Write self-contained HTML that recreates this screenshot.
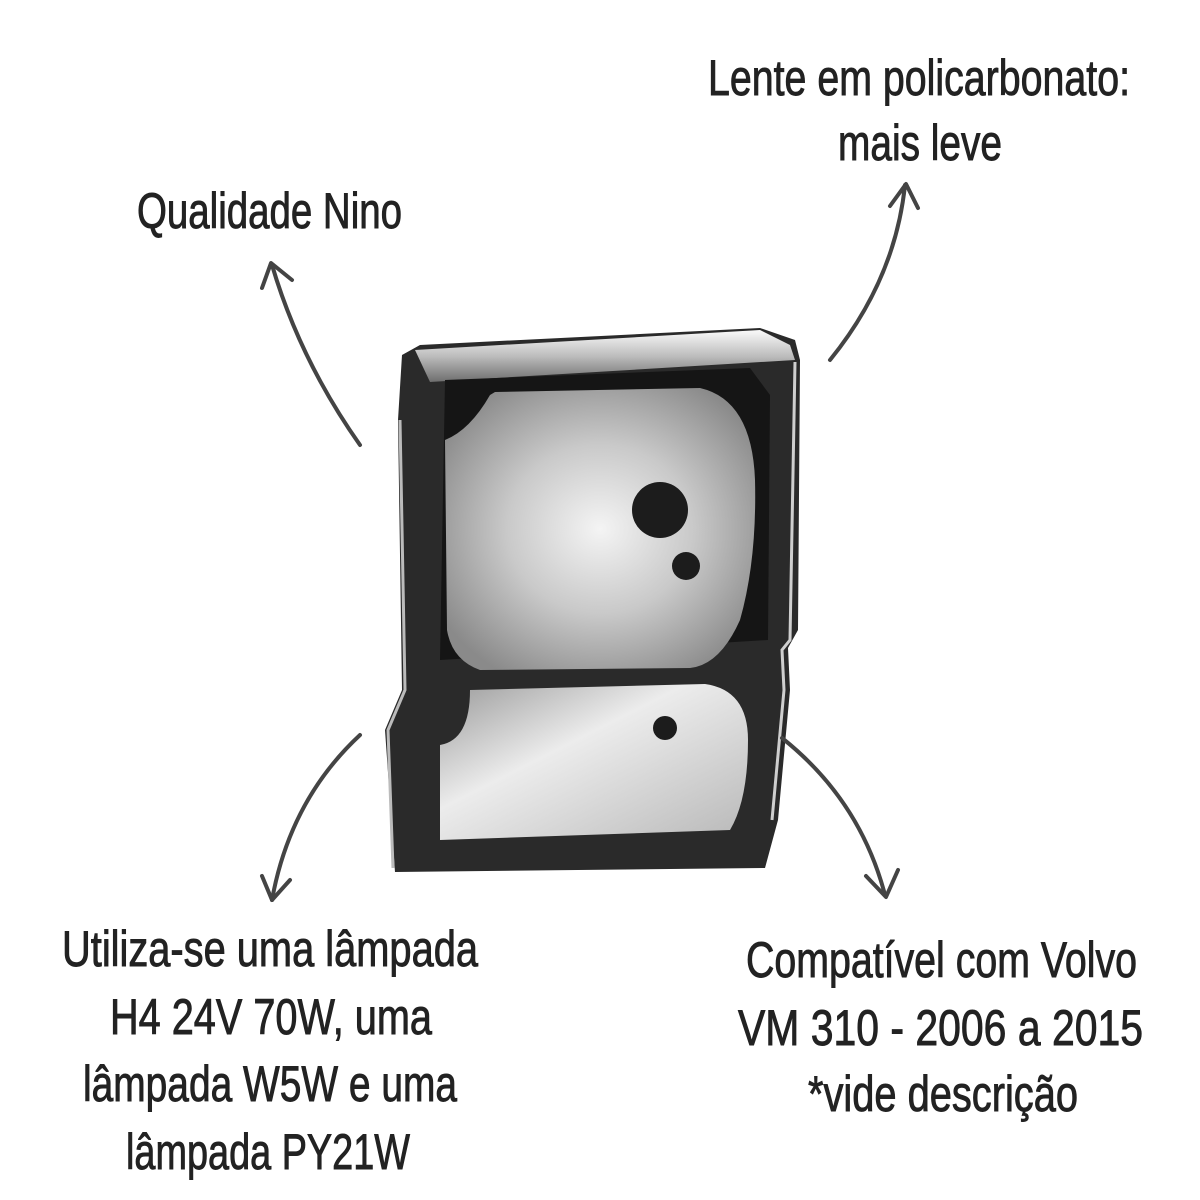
<!DOCTYPE html>
<html><head><meta charset="utf-8"><style>
html,body{margin:0;padding:0;background:#fff}
svg{display:block}
text{font-family:"Liberation Sans Narrow","Liberation Sans",sans-serif;font-size:50px;fill:#222;stroke:#222;stroke-width:0.9}
</style></head><body>
<svg width="1200" height="1200" viewBox="0 0 1200 1200" xmlns="http://www.w3.org/2000/svg">
<defs>
<radialGradient id="lens" cx="0.5" cy="0.5" r="0.6">
<stop offset="0" stop-color="#f4f4f4"/><stop offset="0.5" stop-color="#c9c9c9"/><stop offset="1" stop-color="#8a8a8a"/>
</radialGradient>
<linearGradient id="chrome" x1="0" y1="0" x2="0" y2="1">
<stop offset="0" stop-color="#fafafa"/><stop offset="0.5" stop-color="#bdbdbd"/><stop offset="1" stop-color="#6e6e6e"/>
</linearGradient>
<linearGradient id="low" x1="0" y1="0" x2="1" y2="1">
<stop offset="0" stop-color="#9a9a9a"/><stop offset="0.4" stop-color="#ececec"/><stop offset="1" stop-color="#b8b8b8"/>
</linearGradient>
</defs>

<!-- headlight -->
<path d="M402,355 L420,345 L760,328 L795,340 L800,360 L798,630 L788,648 L790,690 L778,820 L765,868 L395,872 L385,730 L402,690 L398,420 Z" fill="#2a2a2a"/>
<path d="M415,350 L760,330 L790,345 L795,360 L430,382 Z" fill="url(#chrome)"/>
<path d="M445,380 L750,368 L770,395 L768,640 L440,660 Z" fill="#151515"/>
<path d="M495,392 L700,388 Q752,400 755,480 Q757,560 740,620 Q720,665 690,668 L480,670 Q452,660 447,630 L445,440 Q470,430 490,395 Z" fill="url(#lens)"/>
<circle cx="660" cy="510" r="28" fill="#1c1c1c"/>
<circle cx="686" cy="566" r="14" fill="#1c1c1c"/>
<path d="M470,690 L705,684 Q748,690 748,740 Q748,800 730,830 L440,840 L440,745 Q470,740 470,690 Z" fill="url(#low)"/>
<circle cx="665" cy="728" r="12" fill="#1c1c1c"/>
<path d="M400,420 L405,690 L388,730 L393,868" stroke="#bbb" stroke-width="3" fill="none"/>
<path d="M795,362 L790,640 L782,650 L784,690 L772,820" stroke="#cfcfcf" stroke-width="3" fill="none"/>

<!-- arrows -->
<g stroke="#444" stroke-width="4" fill="none" stroke-linecap="round" stroke-linejoin="round">
<path d="M360,445 Q300,360 272,265"/><path d="M262,288 L271,263 L292,280"/>
<path d="M830,360 Q895,280 905,185"/><path d="M890,206 L906,184 L918,208"/>
<path d="M360,735 Q290,800 272,900"/><path d="M262,876 L272,900 L290,880"/>
<path d="M782,738 Q860,800 885,895"/><path d="M866,876 L886,897 L898,870"/>
</g>

<!-- labels -->
<text x="137" y="228" textLength="265" lengthAdjust="spacingAndGlyphs">Qualidade Nino</text>
<text x="708" y="95" textLength="422" lengthAdjust="spacingAndGlyphs">Lente em policarbonato:</text>
<text x="838" y="160" textLength="164" lengthAdjust="spacingAndGlyphs">mais leve</text>
<text x="62" y="966" textLength="416" lengthAdjust="spacingAndGlyphs">Utiliza-se uma lâmpada</text>
<text x="110" y="1034" textLength="322" lengthAdjust="spacingAndGlyphs">H4 24V 70W, uma</text>
<text x="83" y="1101" textLength="374" lengthAdjust="spacingAndGlyphs">lâmpada W5W e uma</text>
<text x="126" y="1169" textLength="284" lengthAdjust="spacingAndGlyphs">lâmpada PY21W</text>
<text x="746" y="977" textLength="391" lengthAdjust="spacingAndGlyphs">Compatível com Volvo</text>
<text x="738" y="1045" textLength="405" lengthAdjust="spacingAndGlyphs">VM 310 - 2006 a 2015</text>
<text x="808" y="1111" textLength="270" lengthAdjust="spacingAndGlyphs">*vide descrição</text>
</svg>
</body></html>
